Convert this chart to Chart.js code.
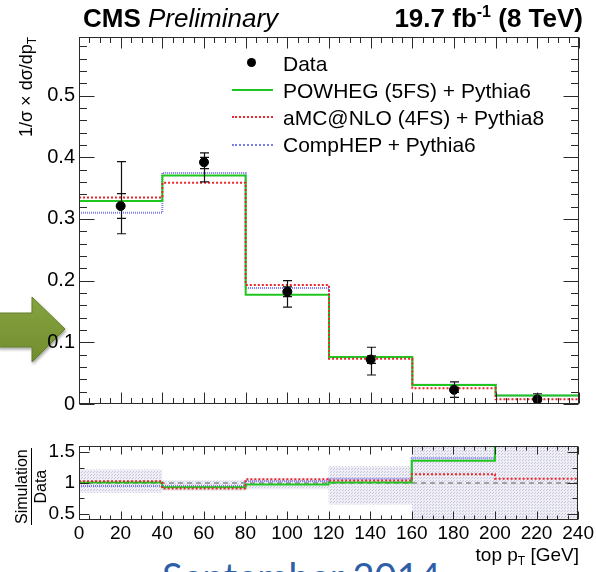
<!DOCTYPE html>
<html><head><meta charset="utf-8">
<script src="https://cdn.jsdelivr.net/npm/chart.js@4.4.0/dist/chart.umd.min.js"></script>
<style>
html,body{margin:0;padding:0;background:#fff;width:596px;height:572px;overflow:hidden;}
body{position:relative;font-family:"Liberation Sans",Arial,sans-serif;}
#arrow{position:absolute;left:0;top:0;z-index:0}
canvas{position:absolute;left:0;z-index:1}
#main{top:0}
#ratio{top:430px}
.txt{position:absolute;z-index:2;white-space:nowrap;color:#000;line-height:1}
.leg{position:absolute;z-index:2}
</style>
</head><body>
<svg id="arrow" width="90" height="380" viewBox="0 0 90 380">
  <defs>
    <linearGradient id="ag" x1="0" y1="0" x2="0" y2="1">
      <stop offset="0" stop-color="#86a340"/>
      <stop offset="1" stop-color="#718d2f"/>
    </linearGradient>
    <filter id="sh" x="-20%" y="-20%" width="140%" height="140%">
      <feGaussianBlur in="SourceAlpha" stdDeviation="1.5"/>
      <feOffset dx="1" dy="2" result="o"/>
      <feComponentTransfer><feFuncA type="linear" slope="0.35"/></feComponentTransfer>
      <feMerge><feMergeNode/><feMergeNode in="SourceGraphic"/></feMerge>
    </filter>
  </defs>
  <polygon points="-2,313 32,313 32,297 65,329 32,362 32,347 -2,347" fill="url(#ag)" stroke="#647f28" stroke-width="1" filter="url(#sh)"/>
</svg>
<canvas id="main" width="596" height="420"></canvas>
<canvas id="ratio" width="596" height="142"></canvas>

<div class="txt" style="left:83px;top:5px;font-size:26px;"><b>CMS</b> <i>Preliminary</i></div>
<div class="txt" style="right:13px;top:5px;font-size:26px;font-weight:bold;">19.7 fb<sup style="font-size:16px;vertical-align:10px;line-height:0">-1</sup> (8 TeV)</div>
<div class="txt" style="left:17px;top:137px;font-size:18px;transform-origin:0 0;transform:rotate(-90deg);">1/σ × dσ/dp<sub style="font-size:12px;vertical-align:-4px;line-height:0">T</sub></div>
<div class="txt" style="left:14px;top:525px;font-size:16px;transform-origin:0 0;transform:rotate(-90deg);text-align:center;">
  <div style="border-bottom:1px solid #000;padding:0 1px 1px 1px;">Simulation</div>
  <div style="padding-top:1px;">Data</div>
</div>
<div class="txt" style="right:17px;top:545px;font-size:19px;">top p<sub style="font-size:12px;vertical-align:-4px;line-height:0">T</sub> [GeV]</div>
<div class="txt" style="left:162px;top:557px;font-size:38px;color:#2f5ea8;font-family:Lato,'Open Sans',sans-serif;z-index:0;">September 2014</div>

<div class="leg" style="left:247px;top:58px;width:9px;height:9px;border-radius:50%;background:#000;"></div>
<div class="leg" style="left:232px;top:89px;width:41px;border-top:2px solid #1fc61f;"></div>
<div class="leg" style="left:232px;top:116px;width:41px;border-top:2px dotted #e8262b;"></div>
<div class="leg" style="left:232px;top:144px;width:41px;border-top:2px dotted #7b7bf0;"></div>
<div class="txt" style="left:283px;top:53px;font-size:21px;">Data</div>
<div class="txt" style="left:283px;top:80px;font-size:21px;">POWHEG (5FS) + Pythia6</div>
<div class="txt" style="left:283px;top:107px;font-size:21px;">aMC@NLO (4FS) + Pythia8</div>
<div class="txt" style="left:283px;top:134px;font-size:21px;">CompHEP + Pythia6</div>

<script>
// ---------- data ----------
const binEdges = [0, 40, 80, 120, 160, 200, 240];
const binCenters = [20, 60, 100, 140, 180, 220];
const dataValues = [0.321, 0.392, 0.182, 0.072, 0.023, 0.0076];
const dataTotUp = [0.393, 0.407, 0.200, 0.092, 0.036, 0.0166];
const dataTotDown = [0.276, 0.360, 0.157, 0.047, 0.0107, 0.001];
const dataStatUp = [0.341, 0.400, 0.190, 0.078, 0.027, 0.010];
const dataStatDown = [0.301, 0.3815, 0.174, 0.066, 0.019, 0.005];
const powheg = [0.329, 0.3705, 0.177, 0.076, 0.031, 0.0139];
const amcnlo = [0.3346, 0.3588, 0.193, 0.0735, 0.0255, 0.0076];
const comphep = [0.310, 0.3746, 0.188, 0.076, 0.0313, 0.0139];
const ratioPowheg = [1.01, 0.93, 0.975, 1.01, 1.36, 1.60];
const ratioAmcnlo = [1.03, 0.91, 1.06, 1.04, 1.14, 1.07];
const ratioComphep = [0.95, 0.95, 1.03, 1.07, 1.40, 1.60];
const ratioBandLow = [0.84, 0.88, 0.90, 0.65, 0.30, 0.30];
const ratioBandHigh = [1.22, 1.04, 1.07, 1.27, 1.70, 1.70];
const ratioRef = [1, 1];
const ratioRefX = [0, 240];
const xTickLabels = [0, 20, 40, 60, 80, 100, 120, 140, 160, 180, 200, 220, 240];
const mainYTicks = [0, 0.1, 0.2, 0.3, 0.4, 0.5];
const ratioYTicks = [0.5, 1, 1.5];

// ---------- helpers ----------
function steps(vals) {
  const pts = vals.map((v, i) => ({x: binEdges[i], y: v}));
  pts.push({x: binEdges[binEdges.length - 1], y: vals[vals.length - 1]});
  return pts;
}
const FONT = '"Liberation Sans", Arial, sans-serif';

const frameTicks = {
  id: 'frameTicks',
  afterDatasetsDraw(chart, args, o) {
    const {ctx, chartArea: a, scales: {x, y}} = chart;
    ctx.save();
    ctx.strokeStyle = '#2a2a2a';
    ctx.lineWidth = 1;
    const L = Math.round(a.left) + 0.5, R = Math.round(a.right) - 0.5;
    const T = Math.round(a.top) + 0.5, B = Math.round(a.bottom) - 0.5;
    ctx.beginPath();
    const isMajor = (v, step) => Math.abs(v / step - Math.round(v / step)) < 1e-6;
    for (let k = 0; ; k++) {
      const v = x.min + k * o.xMinor;
      if (v > x.max + 1e-9) break;
      const len = isMajor(v, o.xMajor) ? o.xMajorLen : o.xMinorLen;
      const px = Math.round(x.getPixelForValue(v)) + 0.5;
      ctx.moveTo(px, B); ctx.lineTo(px, B - len);
      ctx.moveTo(px, T); ctx.lineTo(px, T + len);
    }
    const y0 = Math.ceil(y.min / o.yMinor - 1e-6) * o.yMinor;
    for (let k = 0; ; k++) {
      const v = y0 + k * o.yMinor;
      if (v > y.max + 1e-9) break;
      const len = isMajor(v, o.yMajor) ? o.yMajorLen : o.yMinorLen;
      const py = Math.round(y.getPixelForValue(v)) + 0.5;
      ctx.moveTo(L, py); ctx.lineTo(L + len, py);
      ctx.moveTo(R, py); ctx.lineTo(R - len, py);
    }
    ctx.stroke();
    ctx.strokeRect(L, T, R - L, B - T);
    ctx.restore();
  }
};

const errorBars = {
  id: 'errorBars',
  beforeDatasetDraw(chart, args) {
    if (args.index !== 0) return;
    const {ctx, scales: {x, y}} = chart;
    ctx.save();
    ctx.strokeStyle = '#111';
    ctx.lineWidth = 1.2;
    ctx.beginPath();
    binCenters.forEach((c, i) => {
      const px = Math.round(x.getPixelForValue(c)) + 0.5;
      const yu = y.getPixelForValue(dataTotUp[i]), yd = y.getPixelForValue(dataTotDown[i]);
      const su = y.getPixelForValue(dataStatUp[i]), sd = y.getPixelForValue(dataStatDown[i]);
      ctx.moveTo(px, yu); ctx.lineTo(px, yd);
      [yu, yd, su, sd].forEach(py => { ctx.moveTo(px - 4.5, py); ctx.lineTo(px + 4.5, py); });
    });
    ctx.stroke();
    ctx.restore();
  }
};

function baseOpts() {
  return {responsive: false, animation: false, devicePixelRatio: 1, events: [],
    plugins: {legend: {display: false}, tooltip: {enabled: false}}};
}

// ---------- main panel ----------
const mainOpts = baseOpts();
mainOpts.layout = {padding: {left: 0, right: 17, top: 37, bottom: 6}};
mainOpts.plugins.frameTicks = {xMinor: 5, xMajor: 20, xMajorLen: 11, xMinorLen: 5.5,
  yMinor: 0.02, yMajor: 0.1, yMajorLen: 15, yMinorLen: 7.5};
mainOpts.scales = {
  x: {type: 'linear', min: 0, max: 240, display: false},
  y: {type: 'linear', min: 0, max: 0.595,
      afterFit(s) { s.width = 79; },
      afterBuildTicks(s) { s.ticks = mainYTicks.map(v => ({value: v})); },
      grid: {display: false, drawTicks: false}, border: {display: false},
      ticks: {padding: 4, color: '#000', font: {family: FONT, size: 20},
              callback: v => (v === 0 ? '0' : v.toFixed(1))}}
};
new Chart(document.getElementById('main'), {
  type: 'line',
  data: {datasets: [
    {label: 'Data', type: 'scatter', data: binCenters.map((c, i) => ({x: c, y: dataValues[i]})),
     pointRadius: 4.5, pointBackgroundColor: '#000', pointBorderColor: '#000', showLine: false, order: 0},
    {label: 'aMC@NLO (4FS) + Pythia8', data: steps(amcnlo), borderColor: '#e8262b', borderWidth: 2,
     borderDash: [2, 2], stepped: true, pointRadius: 0, fill: false, order: 1},
    {label: 'POWHEG (5FS) + Pythia6', data: steps(powheg), borderColor: '#1fc61f', borderWidth: 2,
     stepped: true, pointRadius: 0, fill: false, order: 2},
    {label: 'CompHEP + Pythia6', data: steps(comphep), borderColor: '#7b7bf0', borderWidth: 2,
     borderDash: [1, 1], stepped: true, pointRadius: 0, fill: false, order: 3}
  ]},
  options: mainOpts,
  plugins: [frameTicks, errorBars]
});

// ---------- ratio panel ----------
function makePattern() {
  const c = document.createElement('canvas');
  c.width = 3; c.height = 3;
  const g = c.getContext('2d');
  g.fillStyle = 'rgb(238,238,244)'; g.fillRect(0, 0, 3, 3);
  g.fillStyle = 'rgb(198,198,222)'; g.fillRect(0, 0, 1, 1); g.fillRect(1, 2, 1, 1);
  return g.createPattern(c, 'repeat');
}
const ratioOpts = baseOpts();
ratioOpts.layout = {padding: {left: 0, right: 17, top: 16, bottom: 22}};
ratioOpts.plugins.frameTicks = {xMinor: 5, xMajor: 20, xMajorLen: 8, xMinorLen: 4,
  yMinor: 0.25, yMajor: 0.5, yMajorLen: 10, yMinorLen: 5};
ratioOpts.plugins.filler = {propagate: false};
ratioOpts.scales = {
  x: {type: 'linear', min: 0, max: 240,
      afterFit(s) { s.height = 30; },
      afterBuildTicks(s) { s.ticks = xTickLabels.map(v => ({value: v})); },
      grid: {display: false, drawTicks: false}, border: {display: false},
      ticks: {padding: 2, color: '#000', autoSkip: false, maxRotation: 0,
              font: {family: FONT, size: 19}, callback: v => String(v)}},
  y: {type: 'linear', min: 0.4, max: 1.6,
      afterFit(s) { s.width = 79; },
      afterBuildTicks(s) { s.ticks = ratioYTicks.map(v => ({value: v})); },
      grid: {display: false, drawTicks: false}, border: {display: false},
      ticks: {padding: 4, color: '#000', font: {family: FONT, size: 19},
              callback: v => String(v)}}
};
new Chart(document.getElementById('ratio'), {
  type: 'line',
  data: {datasets: [
    {label: 'band low', data: steps(ratioBandLow), borderWidth: 0, borderColor: 'rgba(0,0,0,0)',
     stepped: true, pointRadius: 0, fill: false, order: 10},
    {label: 'band high', data: steps(ratioBandHigh), borderWidth: 0, borderColor: 'rgba(0,0,0,0)',
     backgroundColor: makePattern(), stepped: true, pointRadius: 0, fill: '-1', order: 9},
    {label: 'ref', data: ratioRefX.map((x, i) => ({x: x, y: ratioRef[i]})), borderColor: '#8a8a8a',
     borderWidth: 1.5, borderDash: [5, 4], pointRadius: 0, fill: false, order: 8},
    {label: 'CompHEP', data: steps(ratioComphep), borderColor: '#7b7bf0', borderWidth: 2,
     borderDash: [1, 1], stepped: true, pointRadius: 0, fill: false, order: 7},
    {label: 'POWHEG', data: steps(ratioPowheg), borderColor: '#1fc61f', borderWidth: 2,
     stepped: true, pointRadius: 0, fill: false, order: 6},
    {label: 'aMC@NLO', data: steps(ratioAmcnlo), borderColor: '#e8262b', borderWidth: 2,
     borderDash: [2, 2], stepped: true, pointRadius: 0, fill: false, order: 5}
  ]},
  options: ratioOpts,
  plugins: [frameTicks]
});
</script>
</body></html>
